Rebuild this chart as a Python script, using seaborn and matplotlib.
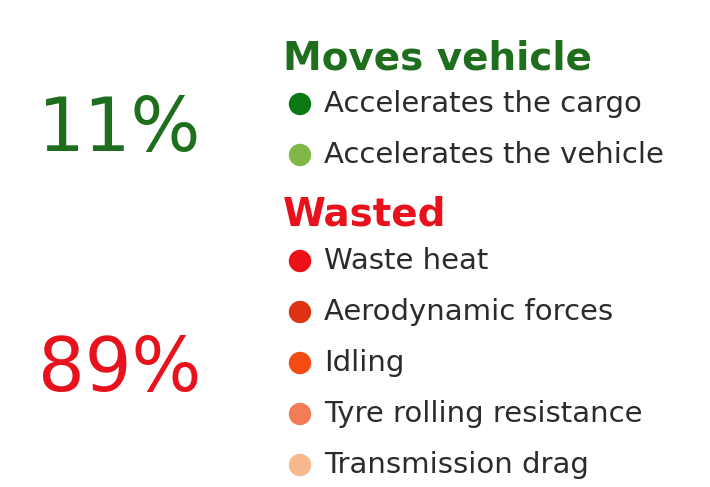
import pandas as pd
import matplotlib.pyplot as plt
import seaborn as sns

# Energy use of a truck: share that moves the vehicle vs. share wasted
groups = ['Moves vehicle', 'Wasted']
group_share = ['11%', '89%']
group_colors = ['#1e6e1e', '#e8121c']

items = ['Accelerates the cargo', 'Accelerates the vehicle',
         'Waste heat', 'Aerodynamic forces', 'Idling',
         'Tyre rolling resistance', 'Transmission drag']
item_group = ['Moves vehicle', 'Moves vehicle',
              'Wasted', 'Wasted', 'Wasted', 'Wasted', 'Wasted']
item_colors = ['#0c7a12', '#80b848', '#ec1018', '#dc3414', '#f24c14', '#f27c56', '#f8b88e']

sns.set_theme(style='white')
plt.rcParams['font.family'] = ['DejaVu Sans']

# vertical layout of the legend rows (pixel space, top = 0)
rows = []
y = 58
for g in groups:
    rows.append(('header', g, y))
    y += 46
    for it, ig in zip(items, item_group):
        if ig == g:
            rows.append(('item', it, y))
            y += 51
    y += 9  # extra gap before next header

df = pd.DataFrame([r for r in rows if r[0] == 'item'], columns=['kind', 'label', 'y'])
df['x'] = 300

fig = plt.figure(figsize=(7.1, 4.87), dpi=100)
ax = fig.add_axes([0, 0, 1, 1])
ax.set_xlim(0, 710)
ax.set_ylim(487, 0)
ax.axis('off')

sns.scatterplot(data=df, x='x', y='y', hue='label', palette=item_colors,
                s=260, linewidth=0, legend=False, ax=ax)

for kind, label, yy in rows:
    if kind == 'header':
        c = group_colors[groups.index(label)]
        ax.text(283, yy, label, color=c, fontsize=28, fontweight='bold',
                va='center', ha='left')
    else:
        ax.text(324, yy, label, color='#2b2b2b', fontsize=21,
                va='center', ha='left')

big_y = [123, 362]
for share, c, yy in zip(group_share, group_colors, big_y):
    ax.text(38, yy, share, color=c, fontsize=53, va='center_baseline', ha='left')

fig.savefig('out.png', dpi=100)
